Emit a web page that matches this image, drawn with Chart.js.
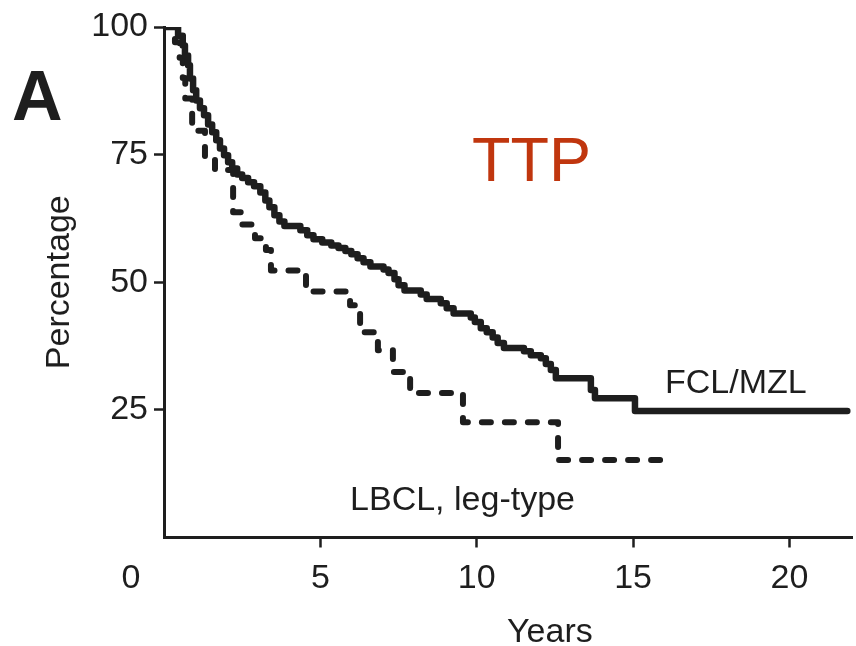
<!DOCTYPE html>
<html>
<head>
<meta charset="utf-8">
<script src="https://cdn.jsdelivr.net/npm/chart.js@4.4.0/dist/chart.umd.min.js"></script>
<style>
  html, body { margin: 0; padding: 0; background: #ffffff; }
  #c { display: block; }
</style>
</head>
<body>
<canvas id="c" width="856" height="646"></canvas>
<script>
// Time to progression, Kaplan-Meier estimates (years, percentage)
const fclYears = [0, 0.45, 0.6, 0.67, 0.77, 0.83, 0.93, 1.03, 1.15, 1.28, 1.41, 1.54, 1.67, 1.79, 1.92,
  2.05, 2.18, 2.34, 2.5, 2.69, 2.88, 3.08, 3.24, 3.37, 3.53, 3.69, 3.85, 4.36, 4.58, 4.78, 5.06, 5.35,
  5.58, 5.8, 5.99, 6.19, 6.38, 6.6, 7.02, 7.18, 7.37, 7.5, 7.69, 8.21, 8.4, 8.85, 9.04, 9.26, 9.81,
  9.94, 10.13, 10.32, 10.51, 10.67, 10.87, 11.51, 11.73, 12.05, 12.21, 12.37, 12.53, 13.65, 13.78,
  15.06, 21.85];
const fclPct = [100, 98.3, 96.4, 94.4, 92.5, 89.9, 87.6, 85.6, 84.1, 82.7, 80.9, 79.4, 77.8, 76.2, 74.9,
  73.5, 72.3, 71.1, 70.4, 69.6, 68.8, 67.6, 66.0, 64.7, 63.1, 61.9, 61.0, 60.2, 59.2, 58.4, 57.8, 57.2,
  56.7, 56.1, 55.5, 54.7, 53.9, 53.1, 52.5, 51.8, 50.6, 49.4, 48.4, 47.6, 46.7, 45.9, 44.9, 43.9, 43.1,
  42.2, 41.0, 40.2, 39.2, 38.1, 37.1, 36.5, 35.7, 35.1, 34.0, 32.8, 31.2, 28.9, 27.3,
  24.8, 24.8];

const lbclYears = [0, 0.35, 0.5, 0.6, 0.68, 0.9, 1.31, 1.63, 2.21, 2.49, 2.91, 3.26, 3.42, 4.54,
  5.95, 6.27, 6.84, 7.32, 7.87, 9.56, 12.6, 15.93];
const lbclPct = [100, 97, 94, 90, 86, 79.7, 74.5, 72, 63.7, 61.3, 58.6, 56.3, 52.3, 48.2,
  45.5, 40.2, 36.7, 32.4, 28.3, 22.6, 15.2, 15.2];

const xTickValues = [5, 10, 15, 20];
const yTickValues = [25, 50, 75, 100];

const INK = '#1e1e1e';
const TITLE_RED = '#c0360e';
const FONT = "'Liberation Sans', Arial, Helvetica, sans-serif";

const toPoints = (xs, ys) => xs.map((v, i) => ({ x: v, y: ys[i] }));

// Free-standing text: panel letter, endpoint, series labels and the axis name
const annotations = {
  id: 'annotations',
  afterDraw(chart) {
    const { ctx, scales: { x, y } } = chart;
    ctx.save();
    ctx.fillStyle = INK;
    ctx.textBaseline = 'alphabetic';

    ctx.font = `bold 70px ${FONT}`;
    ctx.textAlign = 'left';
    ctx.fillText('A', 12, 120);

    ctx.font = `63px ${FONT}`;
    ctx.fillStyle = TITLE_RED;
    ctx.fillText('TTP', x.getPixelForValue(9.85), y.getPixelForValue(69.8));

    ctx.fillStyle = INK;
    ctx.font = `34px ${FONT}`;
    ctx.fillText('FCL/MZL', x.getPixelForValue(16.02), y.getPixelForValue(28.3));
    ctx.fillText('LBCL, leg-type', x.getPixelForValue(5.95), y.getPixelForValue(5.3));

    ctx.textAlign = 'center';
    ctx.fillText('Years', x.getPixelForValue(12.34), 642);

    // origin label, set off to the left of the y axis
    ctx.textBaseline = 'middle';
    ctx.fillText('0', x.getPixelForValue(0) - 33, x.top + 10 + 11 + 20.4);
    ctx.restore();
  }
};

new Chart(document.getElementById('c'), {
  type: 'line',
  data: {
    datasets: [
      {
        label: 'FCL/MZL',
        data: toPoints(fclYears, fclPct),
        stepped: 'before',
        borderColor: INK,
        borderWidth: 6.5,
        borderCapStyle: 'round',
        borderJoinStyle: 'round',
        pointRadius: 0,
        fill: false
      },
      {
        label: 'LBCL, leg-type',
        data: toPoints(lbclYears, lbclPct),
        stepped: 'before',
        borderColor: INK,
        borderWidth: 6,
        borderDash: [9, 14],
        borderCapStyle: 'round',
        borderJoinStyle: 'round',
        pointRadius: 0,
        fill: false
      }
    ]
  },
  options: {
    responsive: false,
    animation: false,
    layout: { padding: { top: 27, right: 4, left: 0, bottom: 0 } },
    plugins: {
      legend: { display: false },
      tooltip: { enabled: false }
    },
    scales: {
      x: {
        type: 'linear',
        min: 0,
        max: 22,
        afterBuildTicks: (s) => { s.ticks = xTickValues.map(v => ({ value: v })); },
        afterFit: (s) => { s.height = 108.5; },
        border: { display: true, color: INK, width: 3 },
        grid: { display: true, drawOnChartArea: false, drawTicks: true, tickLength: 10, tickWidth: 2.5, tickColor: INK },
        ticks: { color: INK, font: { family: FONT, size: 34 }, padding: 11, maxRotation: 0, autoSkip: false }
      },
      y: {
        type: 'linear',
        min: 0,
        max: 100,
        afterBuildTicks: (s) => { s.ticks = yTickValues.map(v => ({ value: v })); },
        afterFit: (s) => { s.width = 164; },
        border: { display: true, color: INK, width: 3 },
        grid: { display: true, drawOnChartArea: false, drawTicks: true, tickLength: 10, tickWidth: 2.5, tickColor: INK },
        ticks: { color: INK, font: { family: FONT, size: 34 }, padding: 6, autoSkip: false },
        title: {
          display: true,
          text: 'Percentage',
          color: INK,
          font: { family: FONT, size: 34 },
          padding: { top: 39, bottom: 0 }
        }
      }
    }
  },
  plugins: [annotations]
});
</script>
</body>
</html>
